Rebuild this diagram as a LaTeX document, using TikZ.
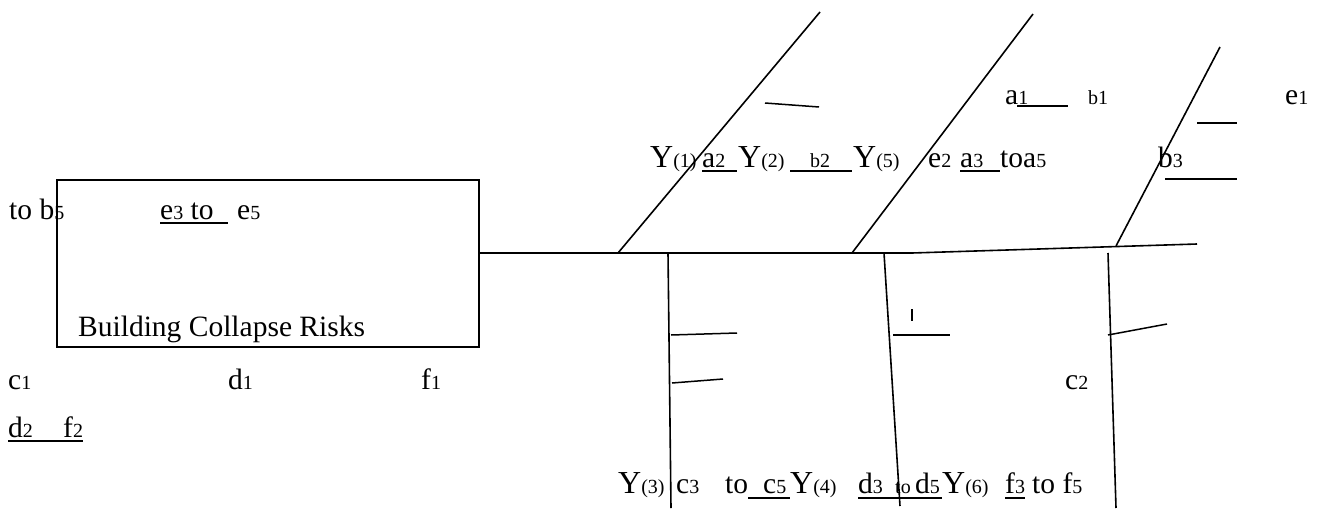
\documentclass[tikz,border=0pt]{standalone}
\usepackage{fontspec}
\setmainfont{Liberation Serif}
\usetikzlibrary{positioning}

\newcommand{\smidx}[1]{{\fontsize{20}{20}\selectfont #1}}

\begin{document}
\begin{tikzpicture}[
  x=1pt, y=-1pt,
  bone/.style={line width=1.6pt},
  tick/.style={line width=1.5pt},
  uline/.style={line width=1.4pt},
  txt/.style={anchor=base west, inner sep=0pt, font=\fontsize{29.5}{31}\selectfont},
  bigtxt/.style={anchor=base west, inner sep=0pt, font=\fontsize{32}{34}\selectfont}
]
\useasboundingbox (0,0) rectangle (1333,522);

% --- Glowa ryby (problem) ---
\node[draw, line width=1.6pt, minimum width=422pt, minimum height=167pt,
      anchor=north west, inner sep=0pt] (risk) at (56,179) {};
\node[txt] (title) at (78,336) {Building Collapse Risks};

% --- Punkty osi glownej i osci ---
\coordinate (s0) at (478,253);
\coordinate (s1) at (912,253);
\coordinate (s2) at (1197,244);
\coordinate (u1a) at (618,253);  \coordinate (u1b) at (820,12);
\coordinate (u2a) at (852,253);  \coordinate (u2b) at (1033,14);
\coordinate (u3a) at (1116,246); \coordinate (u3b) at (1220,47);
\coordinate (l1a) at (668,253);  \coordinate (l1b) at (671,508);
\coordinate (l2a) at (884,253);  \coordinate (l2b) at (900,506);
\coordinate (l3a) at (1108,253); \coordinate (l3b) at (1116,508);

% --- Os glowna ---
\draw[bone] (s0) -- (s1);
\draw[bone] (s1) -- (s2);

% --- Osci gorne i dolne ---
\draw[bone] (u1a) -- (u1b);
\draw[bone] (u2a) -- (u2b);
\draw[bone] (u3a) -- (u3b);
\draw[bone] (l1a) -- (l1b);
\draw[bone] (l2a) -- (l2b);
\draw[bone] (l3a) -- (l3b);

% --- Krotkie kreski ---
\draw[tick] (765,103) -- (819,107);
\draw[tick] (1197,123) -- (1237,123);
\draw[tick] (1165,179) -- (1237,179);
\draw[tick] (671,335) -- (737,333);
\draw[tick] (672,383) -- (723,379);
\draw[line width=1.2pt] (912,309) -- (912,321);
\draw[tick] (893,335) -- (950,335);
\draw[tick] (1108,335) -- (1167,324);

% --- Gorny rzad ---
\node[txt] (a1) at (1005,104) {a\smidx{1}};
\node[txt] (b1) at (1088,104) {\smidx{b1}};
\node[txt] (e1) at (1285,104) {e\smidx{1}};
\draw[uline] (1017,106) -- (1068,106);

% --- Drugi rzad ---
\node[bigtxt] (y1) at (650,167) {Y\smidx{(1)}};
\node[txt] (a2) at (702,167) {a\smidx{2}};
\node[bigtxt] (y2) at (738,167) {Y\smidx{(2)}};
\node[txt] (b2) at (810,167) {\smidx{b2}};
\node[bigtxt] (y5) at (853,167) {Y\smidx{(5)}};
\node[txt] (e2) at (928,167) {e\smidx{2}};
\node[txt] (a3) at (960,167) {a\smidx{3}};
\node[txt] (a5) at (1000,167) {toa\smidx{5}};
\node[txt] (b3) at (1158,167) {b\smidx{3}};
\draw[uline] (702,171) -- (737,171);
\draw[uline] (790,171) -- (852,171);
\draw[uline] (960,171) -- (1000,171);

% --- Lewa strona ---
\node[txt] (b5) at (9,219) {to b\smidx{5}};
\node[txt] (e3) at (160,219) {e\smidx{3} to};
\node[txt] (e5) at (237,219) {e\smidx{5}};
\draw[uline] (160,223) -- (228,223);

\node[txt] (c1) at (8,389) {c\smidx{1}};
\node[txt] (d1) at (228,389) {d\smidx{1}};
\node[txt] (f1) at (421,389) {f\smidx{1}};
\node[txt] (c2) at (1065,389) {c\smidx{2}};

\node[txt] (d2) at (8,437) {d\smidx{2}};
\node[txt] (f2) at (63,437) {f\smidx{2}};
\draw[uline] (8,441) -- (83,441);

% --- Dolny rzad ---
\node[bigtxt] (y3) at (618,493) {Y\smidx{(3)}};
\node[txt] (c3) at (676,493) {c\smidx{3}};
\node[txt] (to1) at (725,493) {to};
\node[txt] (c5) at (763,493) {c\smidx{5}};
\node[bigtxt] (y4) at (790,493) {Y\smidx{(4)}};
\node[txt] (d3) at (858,493) {d\smidx{3}};
\node[txt] (to2) at (895,493) {\smidx{to}};
\node[txt] (d5) at (915,493) {d\smidx{5}};
\node[bigtxt] (y6) at (942,493) {Y\smidx{(6)}};
\node[txt] (f3) at (1005,493) {f\smidx{3}};
\node[txt] (f5) at (1032,493) {to f\smidx{5}};
\draw[uline] (748,498) -- (790,498);
\draw[uline] (858,498) -- (942,498);
\draw[uline] (1005,498) -- (1025,498);

\end{tikzpicture}
\end{document}
